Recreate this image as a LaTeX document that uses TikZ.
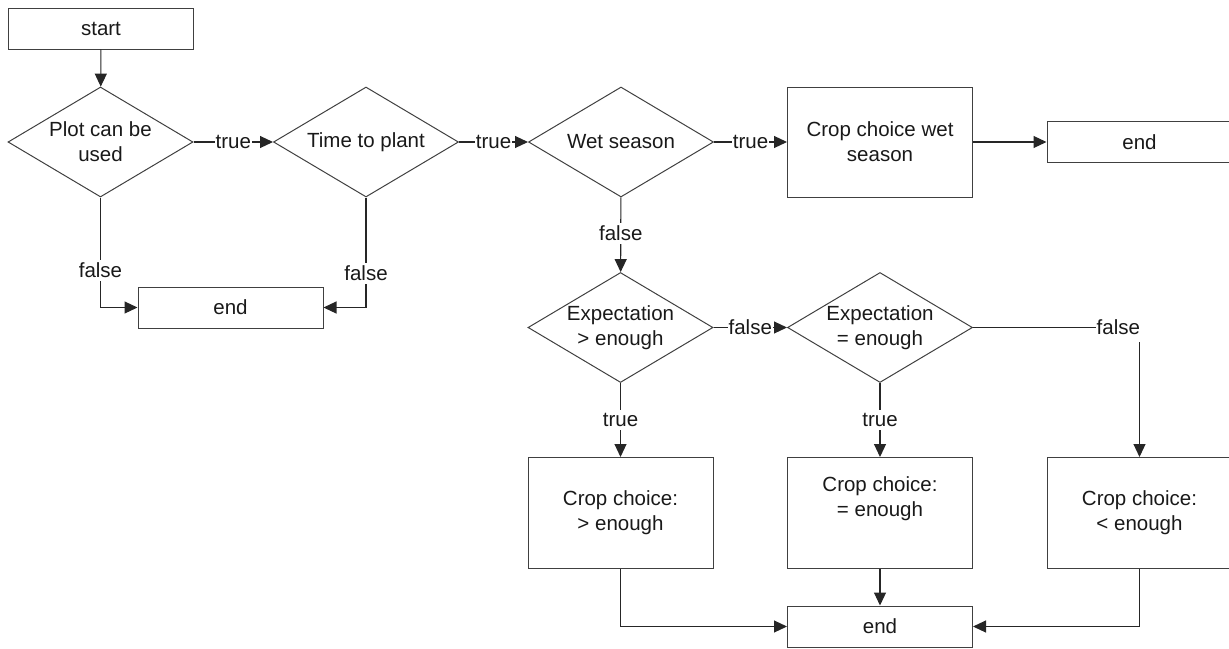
\documentclass[tikz,border=0pt]{standalone}
\usepackage{fontspec}
\setmainfont{Liberation Sans}
\usetikzlibrary{arrows.meta,shapes.geometric}
\begin{document}
\begin{tikzpicture}[x=1pt,y=-1pt,
  every node/.style={font=\fontsize{20.5}{25}\selectfont, text=black!90},
  shp/.style={draw=black!75, line width=1pt, align=center, inner sep=0pt},
  rbox/.style={shp, rectangle, minimum width=185pt, minimum height=41pt},
  cbox/.style={shp, rectangle, minimum width=185pt, minimum height=111pt},
  dec/.style={shp, diamond, aspect=1.6818, minimum width=185pt, minimum height=110pt},
  arr/.style={draw=black!85, line width=1.1pt, -{Triangle[length=13pt,width=12pt]}},
  lbl/.style={fill=white, inner xsep=1pt, inner ysep=3pt}
]
\useasboundingbox (0,0) rectangle (1229,648);
% nodes
\node[rbox] (start) at (101,28.5) {start};
\node[dec] (d1) at (100.5,142) {Plot can be\\used};
\node[dec] (d2) at (366,142) {Time to plant};
\node[dec] (d3) at (621,142) {Wet season};
\node[cbox, minimum height=110pt] (cw) at (880,142) {Crop choice wet\\season};
\node[rbox] (e1) at (1139.5,142) {end};
\node[rbox] (e0) at (230.5,307.5) {end};
\node[dec] (d4) at (620.5,327.5) {Expectation\\> enough};
\node[dec] (d5) at (880,327.5) {Expectation\\= enough};
\node[cbox] (c1) at (620.5,513) {Crop choice:\\> enough};
\node[cbox] (c2) at (880,513) {Crop choice:\\= enough\\\strut};
\node[cbox] (c3) at (1139.5,513) {Crop choice:\\< enough};
\node[rbox] (e2) at (880,626.5) {end};
% connectors
\draw[arr] (start) -- (d1);
\draw[arr] (d1) -- node[lbl]{true} (d2);
\draw[arr] (d2) -- node[lbl]{true} (d3);
\draw[arr] (d3) -- node[lbl]{true} (cw);
\draw[arr] (cw) -- (e1);
\draw[arr] (d1) |- node[lbl,pos=0.33]{false} (e0);
\draw[arr] (d2) |- node[lbl,pos=0.345]{false} (e0);
\draw[arr] (d3) -- node[lbl,pos=0.48]{false} (d4);
\draw[arr] (d4) -- node[lbl]{false} (d5);
\draw[arr] (d5) -| node[lbl,pos=0.5,anchor=east,xshift=2pt,inner ysep=7pt]{false} (c3);
\draw[arr] (d4) -- node[lbl]{true} (c1);
\draw[arr] (d5) -- node[lbl]{true} (c2);
\draw[arr] (c1) |- (e2);
\draw[arr] (c2) -- (e2);
\draw[arr] (c3) |- (e2);
\end{tikzpicture}
\end{document}
